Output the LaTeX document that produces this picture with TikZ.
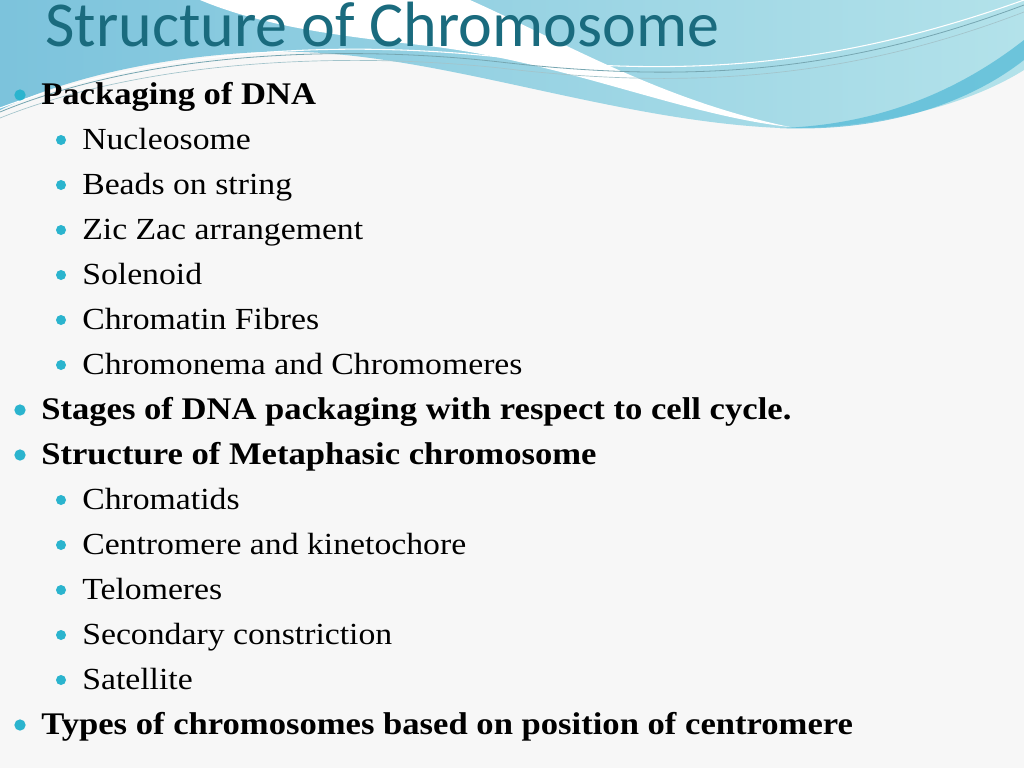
\documentclass[tikz,border=0pt]{standalone}
\usepackage{fontspec}
\setmainfont{Liberation Serif}[FakeStretch=1.1]
\newfontfamily\titlefont{Carlito}
\definecolor{bg}{HTML}{F7F7F7}
\definecolor{ttl}{HTML}{1A6B7E}
\definecolor{bul}{HTML}{2BB4CE}
\definecolor{wa}{HTML}{7CC3DC}
\definecolor{wb}{HTML}{B3E2EA}
\definecolor{wc}{HTML}{4FB8D6}
\tikzset{
 lone/.style={anchor=base west,inner sep=0,font=\fontsize{23.6}{26}\selectfont\bfseries},
 ltwo/.style={anchor=base west,inner sep=0,font=\fontsize{23}{26}\selectfont},
 dot/.style={circle,fill=bul,inner sep=0,minimum size=8.5pt}
}
\begin{document}
\begin{tikzpicture}[x=0.75pt,y=-0.75pt]
\fill[bg] (0,0) rectangle (1024,768);
\useasboundingbox (0,0) rectangle (1024,768);
% wave
\shade[left color=wa,right color=wb] (0,0) -- (1024,0) -- (1024,70) .. controls (960,110) and (860,130) .. (780,128) .. controls (600,120) and (420,45) .. (260,52) .. controls (140,58) and (50,85) .. (0,110) -- cycle;
\fill[white] (200,0) .. controls (260,25) and (330,35) .. (420,45) .. controls (560,60) and (680,115) .. (790,127) .. controls (660,100) and (560,40) .. (470,0) -- cycle;
\fill[wc,opacity=0.7] (780,128) .. controls (880,125) and (960,90) .. (1024,40) -- (1024,60) .. controls (960,110) and (870,132) .. (780,128) -- cycle;
\draw[ttl!60,line width=0.6pt] (0,112) .. controls (150,50) and (350,45) .. (500,62) .. controls (700,85) and (850,70) .. (1024,5);
\draw[ttl!40,line width=0.5pt] (0,118) .. controls (150,58) and (350,52) .. (500,68) .. controls (700,92) and (860,75) .. (1024,12);
\draw[white,line width=0.8pt] (0,108) .. controls (160,48) and (340,40) .. (500,57) .. controls (700,80) and (850,62) .. (1024,0);
% title
\node[anchor=base west,inner sep=0,text=ttl,font=\titlefont\fontsize{48}{52}\selectfont] (title) at (45,46) {Structure of Chromosome};
% bullets
\foreach \n/\y/\lvl/\t in {a/104/1/Packaging of DNA, b/149/2/Nucleosome, c/194/2/Beads on string, d/239/2/Zic Zac arrangement, e/284/2/Solenoid, f/329/2/Chromatin Fibres, g/374/2/Chromonema and Chromomeres, h/419/1/Stages of DNA packaging with respect to cell cycle., i/464/1/Structure of Metaphasic chromosome, j/509/2/Chromatids, k/554/2/Centromere and kinetochore, l/599/2/Telomeres, m/644/2/Secondary constriction, n/689/2/Satellite, o/734/1/Types of chromosomes based on position of centromere}{
 \ifnum\lvl=1
  \node[dot] (d\n) at (20,\y-9) {};
  \node[lone] (t\n) at (41,\y) {\t};
 \else
  \node[dot,minimum size=7.5pt] (d\n) at (61,\y-9) {};
  \node[ltwo] (t\n) at (82,\y) {\t};
 \fi
}
\end{tikzpicture}
\end{document}
